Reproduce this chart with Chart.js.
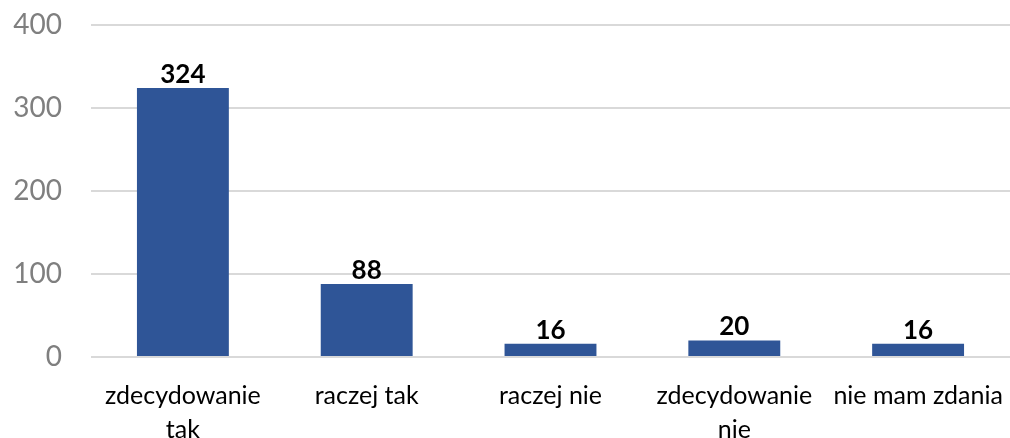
<!DOCTYPE html>
<html><head><meta charset="utf-8">
<script src="https://cdn.jsdelivr.net/npm/chart.js@4/dist/chart.umd.min.js"></script>
<style>html,body{margin:0;padding:0;background:#fff}#wrap{width:1010px;height:438px}</style>
</head><body><div id="wrap"><canvas id="c"></canvas></div>
<script>
const categories = [["zdecydowanie","tak"],"raczej tak","raczej nie",["zdecydowanie","nie"],"nie mam zdania"];
const values = [324, 88, 16, 20, 16];
const yTicks = [0, 100, 200, 300, 400];
const FONT = "Lato, 'Open Sans', sans-serif";

const labelPlugin = {
  id: 'vlabels',
  afterDatasetsDraw(chart) {
    const ctx = chart.ctx;
    const meta = chart.getDatasetMeta(0);
    ctx.save();
    ctx.font = "bold 26px " + FONT;
    ctx.fillStyle = "#000";
    ctx.textAlign = "center";
    ctx.textBaseline = "alphabetic";
    meta.data.forEach((bar, i) => {
      ctx.fillText(String(values[i]), bar.x, bar.y - 5);
    });
    ctx.restore();
  }
};

new Chart(document.getElementById('c'), {
  type: 'bar',
  data: { labels: categories, datasets: [{ data: values, backgroundColor: '#2F5597', categoryPercentage: 0.5, barPercentage: 1.0 }] },
  options: {
    responsive: true, maintainAspectRatio: false, animation: false,
    layout: { padding: { top: 25, right: 0, left: 0, bottom: 0 } },
    plugins: { legend: { display: false }, tooltip: { enabled: false } },
    scales: {
      x: {
        grid: { display: false },
        border: { display: false },
        ticks: { color: '#000', font: { family: FONT, size: 25, lineHeight: 1.35 }, maxRotation: 0, autoSkip: false, padding: 14 },
        afterFit(s) { s.height = 81; s.paddingLeft = 0; s.paddingRight = 0; }
      },
      y: {
        min: 0, max: 400,
        afterBuildTicks(s) { s.ticks = yTicks.map(v => ({ value: v })); },
        grid: { color: '#d9d9d9', lineWidth: 2, drawTicks: false },
        border: { display: false },
        ticks: { color: '#7f7f7f', font: { family: FONT, size: 28 }, padding: 29 },
        afterFit(s) { s.width = 91; s.paddingTop = 0; s.paddingBottom = 0; }
      }
    }
  },
  plugins: [labelPlugin]
});
</script></body></html>
